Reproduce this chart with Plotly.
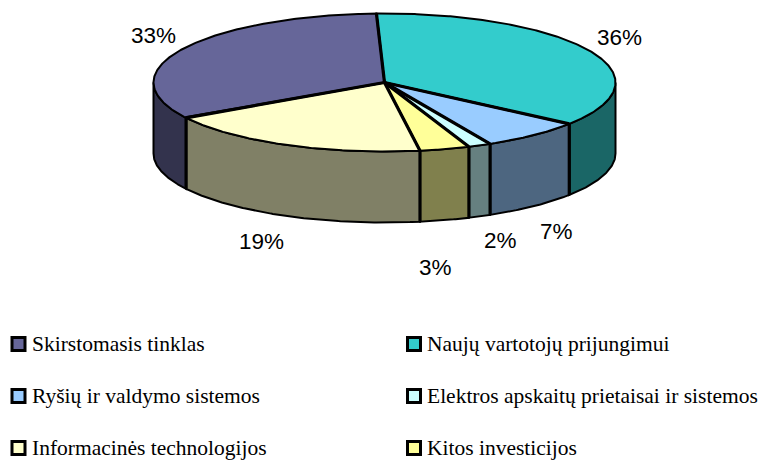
import math
import plotly.graph_objects as go

categories = ["Naujų vartotojų prijungimui", "Ryšių ir valdymo sistemos",
              "Elektros apskaitų prietaisai ir sistemos", "Kitos investicijos",
              "Informacinės technologijos", "Skirstomasis tinklas"]
values = [35.8, 7.2, 1.6, 3.5, 18.9, 33.0]
pct_labels = ["36%", "7%", "2%", "3%", "19%", "33%"]
top_colors = ["#33CCCC", "#99CCFF", "#CCFFFF", "#FFFF99", "#FFFFCC", "#666699"]
side_colors = ["#1A6666", "#4D6680", "#668080", "#80804D", "#808066", "#33334D"]

CX, CY, RX, RY, DEPTH = 384.5, 82.5, 231, 69, 71
START = -2.0
label_pos = [(619, 37), (556, 231), (500, 240), (435, 267), (261, 241), (153, 35)]
legend_order = [5, 0, 1, 2, 4, 3]
legend_cols = [18.5, 414]
legend_text_cols = [29.5, 424.5]
legend_rows = [344, 396, 448]
LEGEND_BORDER = {"width": 3, "color": "black"}


def arc(a, b, dy=0.0):
    n = max(2, int(abs(b - a)) * 2 + 2)
    xs, ys = [], []
    for i in range(n):
        t = math.radians(a + (b - a) * i / (n - 1))
        xs.append(CX + RX * math.sin(t))
        ys.append(CY - RY * math.cos(t) + dy)
    return xs, ys


fig = go.Figure()
angles = [START]
for v in values:
    angles.append(angles[-1] + v * 3.6)


def poly(xs, ys, color, name, width=2.0):
    fig.add_trace(go.Scatter(x=xs, y=ys, mode="lines", fill="toself", fillcolor=color,
                             line={"color": "black", "width": width}, name=name,
                             hoverinfo="name", showlegend=False))


def edge(xs, ys, width):
    fig.add_trace(go.Scatter(x=xs, y=ys, mode="lines", line={"color": "black", "width": width},
                             hoverinfo="skip", showlegend=False))


for i in range(len(values)):
    a, b = max(angles[i], 90), min(angles[i + 1], 270)
    if a < b:
        x1, y1 = arc(a, b)
        x2, y2 = arc(b, a, DEPTH)
        poly(x1 + x2 + x1[:1], y1 + y2 + y1[:1], side_colors[i], categories[i])

for i in range(len(values)):
    xs, ys = arc(angles[i], angles[i + 1])
    poly([CX] + xs + [CX], [CY] + ys + [CY], top_colors[i], categories[i], 2.0)

for ang in angles[:-1]:
    x, y = arc(ang, ang + 0.001)
    edge([CX, x[0]], [CY, y[0]], 3.2)
    if 90 < ang < 270:
        edge([x[0], x[0]], [y[0], y[0] + DEPTH], 3.2)

annotations = []
for lab, (x, y) in zip(pct_labels, label_pos):
    annotations.append(dict(x=x, y=y, text=lab, showarrow=False, xanchor="center", yanchor="middle",
                            font={"family": "Liberation Sans", "size": 22.5, "color": "black"}))

for k, idx in enumerate(legend_order):
    col, row = k % 2, k // 2
    fig.add_trace(go.Scatter(x=[legend_cols[col]], y=[legend_rows[row]], mode="markers",
                             marker={"symbol": "square", "size": 13, "color": top_colors[idx],
                                     "line": LEGEND_BORDER},
                             hoverinfo="skip", showlegend=False))
    annotations.append(dict(x=legend_text_cols[col], y=legend_rows[row], text=categories[idx],
                            showarrow=False, xanchor="left", yanchor="middle",
                            font={"family": "Liberation Serif", "size": 21.5, "color": "black"}))

fig.update_layout(
    width=760, height=461, margin=dict(l=0, r=0, t=0, b=0),
    paper_bgcolor="white", plot_bgcolor="white", annotations=annotations,
    xaxis=dict(range=[0, 760], visible=False, fixedrange=True),
    yaxis=dict(range=[461, 0], visible=False, fixedrange=True),
)
fig.write_html("out.html", config={"displayModeBar": False},
               post_script="document.body.style.margin='0';document.body.style.overflow='hidden';")
